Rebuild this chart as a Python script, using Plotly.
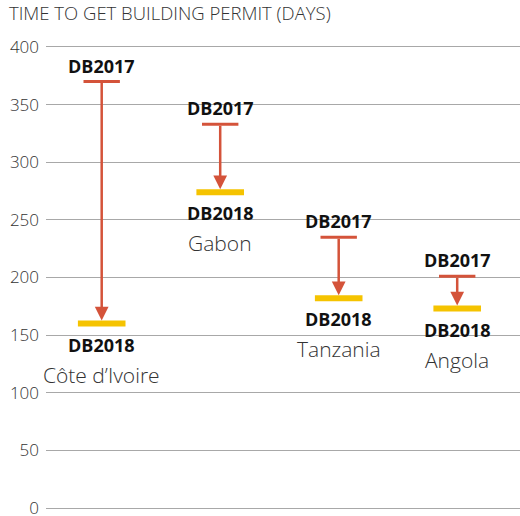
import plotly.graph_objects as go

countries = ["Côte d’Ivoire", "Gabon", "Tanzania", "Angola"]
db2017 = [370, 333, 235, 201]
db2018 = [160, 274, 182, 173]
y_ticks = [0, 50, 100, 150, 200, 250, 300, 350, 400]
title_text = "TIME TO GET BUILDING PERMIT (DAYS)"

RED = "#D4533A"
YELLOW = "#F5C300"
FONT = "Open Sans"

xs = list(range(len(countries)))

fig = go.Figure()

# DB2017 caps
fig.add_trace(go.Scatter(
    x=xs, y=db2017, mode="markers",
    marker=dict(symbol="line-ew", size=26, line=dict(color=RED, width=3)),
    hoverinfo="skip", showlegend=False, cliponaxis=False))

# DB2018 bars
fig.add_trace(go.Scatter(
    x=xs, y=db2018, mode="markers",
    marker=dict(symbol="line-ew", size=34, line=dict(color=YELLOW, width=6)),
    hoverinfo="skip", showlegend=False, cliponaxis=False))

annotations = []
for i, (c, a, b) in enumerate(zip(countries, db2017, db2018)):
    annotations.append(dict(
        x=i, y=b, ax=i, ay=a, xref="x", yref="y", axref="x", ayref="y",
        text="", showarrow=True, arrowhead=2, arrowsize=1.1, arrowwidth=2.5,
        arrowcolor=RED, standoff=3, startstandoff=0))
    annotations.append(dict(
        x=i, y=a, xref="x", yref="y", text="<b>DB2017</b>", showarrow=False,
        yanchor="bottom", yshift=2,
        font=dict(family=FONT, size=18, color="#111111")))
    annotations.append(dict(
        x=i, y=b, xref="x", yref="y", text="<b>DB2018</b>", showarrow=False,
        yanchor="top", yshift=-7,
        font=dict(family=FONT, size=18, color="#111111")))
    annotations.append(dict(
        x=i, y=b, xref="x", yref="y", text=c, showarrow=False,
        yanchor="top", yshift=-35,
        font=dict(family=FONT, size=21, color="#333333", weight=300)))

annotations.append(dict(
    x=0, y=1, xref="paper", yref="paper", xanchor="left", yanchor="bottom",
    xshift=-39, yshift=18, text=title_text, showarrow=False,
    font=dict(family=FONT, size=18.5, color="#333333", weight=300)))

fig.update_layout(
    width=520, height=516,
    margin=dict(l=46, r=0, t=45, b=6, autoexpand=False),
    paper_bgcolor="white", plot_bgcolor="white",
    annotations=annotations,
    xaxis=dict(range=[-0.47, 3.53], showticklabels=False, showgrid=False,
               zeroline=False, showline=False, fixedrange=True, automargin=False),
    yaxis=dict(range=[-1.73, 401.73], tickvals=y_ticks, ticktext=[str(v) for v in y_ticks],
               showgrid=True, gridcolor="#A8A8A8", gridwidth=1, zeroline=False,
               showline=False, ticks="", ticklabelstandoff=6, fixedrange=True,
               ticklabeloverflow="allow", automargin=False,
               tickfont=dict(family=FONT, size=17, color="#333333", weight=300)),
)

fig.write_html("out.html", config={"displayModeBar": False},
               post_script="document.body.style.margin='0';")
